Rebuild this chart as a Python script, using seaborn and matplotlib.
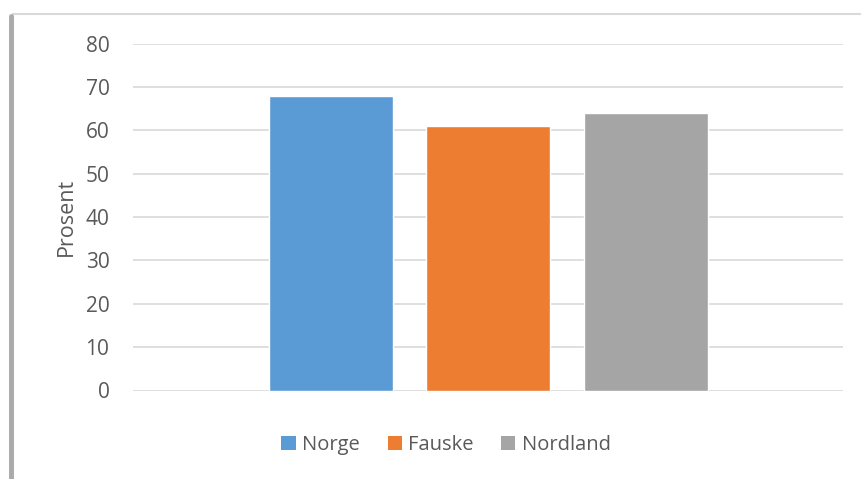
import pandas as pd
import matplotlib
matplotlib.use("Agg")
import matplotlib.pyplot as plt
from matplotlib.patches import Patch, Rectangle
from matplotlib.lines import Line2D
import seaborn as sns

# Data
series = ["Norge", "Fauske", "Nordland"]
values = [68, 61, 64]
colors = ["#5B9BD5", "#ED7D31", "#A5A5A5"]
y_ticks = [0, 10, 20, 30, 40, 50, 60, 70, 80]

df = pd.DataFrame({"omrade": series, "prosent": values})

sns.set_theme(style="white")
plt.rcParams["font.family"] = ["Open Sans", "DejaVu Sans"]
text_col = "#595959"

fig = plt.figure(figsize=(8.61, 4.79), dpi=100)
ax = fig.add_axes([133 / 861, 1 - 390.5 / 479, 710 / 861, 347 / 479])

sns.barplot(data=df, x="omrade", y="prosent", hue="omrade", order=series,
            hue_order=series, palette=colors, dodge=False, width=0.787,
            saturation=1, legend=False, ax=ax)

ax.set_ylim(0, 80)
ax.set_yticks(y_ticks)
ax.set_xlim(-1.257, 3.251)
ax.set_xticks([])
ax.set_xlabel("")
ax.set_ylabel("Prosent", fontsize=15.5, color=text_col, labelpad=6)
ax.tick_params(axis="y", length=0, pad=17, labelsize=15, labelcolor=text_col)
ax.yaxis.grid(True, color="#d9d9d9", linewidth=1.2)
ax.set_axisbelow(True)
for s in ax.spines.values():
    s.set_visible(False)

# Legend at the bottom
handles = [Patch(facecolor=c, edgecolor="none") for c in colors]
fig.legend(handles, series, loc="center", bbox_to_anchor=(446 / 861, 1 - 445 / 479),
           ncol=3, frameon=False, fontsize=14.5, labelcolor=text_col,
           handlelength=0.7, handleheight=0.7, handletextpad=0.3, columnspacing=1.4)

# Chart frame with shadow on the left
fig.patches.append(Rectangle((13 / 861, -0.1), 1.1, 1 - 14 / 479 + 0.1,
                             transform=fig.transFigure, facecolor="none",
                             edgecolor="#d9d9d9", linewidth=1.5))
fig.lines.append(Line2D([10.5 / 861, 10.5 / 861], [0, 1 - 16 / 479],
                        transform=fig.transFigure, color="#aaaaaa", linewidth=3.5))

fig.savefig("out.png", dpi=100)
